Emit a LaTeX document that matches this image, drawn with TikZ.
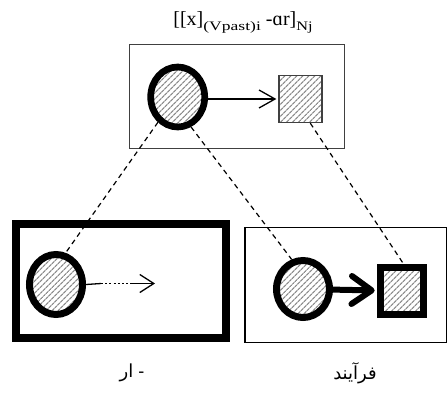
\documentclass[tikz,border=0pt]{standalone}
\usepackage{fontspec}
\usepackage{graphicx}
\usetikzlibrary{shapes.geometric,arrows.meta,patterns.meta}
\newfontfamily\titlefont{Liberation Serif}
\newfontfamily\labfont{Liberation Sans}
\newfontfamily\arabicfont[Script=Arabic]{DejaVu Sans}
\TeXXeTstate=1
\begin{document}
\begin{tikzpicture}[x=1pt,y=-1pt,
  hatch/.style={pattern={Lines[angle=45,distance=4pt,line width=1.3pt]},pattern color=black!45},
  circ/.style={ellipse,draw,hatch,inner sep=0pt,line width=#1},
  sq/.style={rectangle,draw,hatch,inner sep=0pt,minimum width=43pt,minimum height=47pt,line width=#1},
  link/.style={dash pattern=on 5pt off 4pt,line width=1.2pt},
  frame/.style={draw,rectangle,inner sep=0pt},
  lab/.style={font=\labfont\fontsize{18}{20}\selectfont,inner sep=0pt}
]
\useasboundingbox (0,0) rectangle (447,393);

% frames
\node[frame,line width=1.4pt,draw=black!75,minimum width=215pt,minimum height=104pt] (topbox) at (237,96.5) {};
\node[frame,line width=8pt,minimum width=210.5pt,minimum height=114pt] (leftbox) at (120.75,281) {};
\node[frame,line width=1.2pt,minimum width=201.5pt,minimum height=115pt] (rightbox) at (345.75,285) {};

% title
\node[anchor=base,inner sep=0pt] (title) at (243,26) {\titlefont\fontsize{20}{20}\selectfont
  [[x]\raisebox{-4.5pt}{\fontsize{13}{13}\selectfont\scalebox{1.35}[1]{(Vpast)i}} -ɑr]\raisebox{-4.5pt}{\fontsize{13}{13}\selectfont\scalebox{1.25}[1]{Nj}}};

% top shapes
\node[circ=6.7pt,minimum width=54pt,minimum height=60pt] (tc) at (177.7,97) {};
\node[sq=1.3pt,draw=black!75] (ts) at (300.5,99) {};
\draw[line width=1.3pt,-{Straight Barb[length=16pt,width=18pt,line width=1.3pt]},shorten >=2pt] (tc.east |- ts.west) -- (ts.west);

% bottom-left shapes
\node[circ=7pt,minimum width=53pt,minimum height=60pt] (lc) at (56,284.5) {};
\coordinate (d1) at (101,283.5);
\coordinate (d2) at (132,283.5);
\coordinate (lt) at (155,283.5);
\draw[line width=1.3pt] (lc.east) -- (d1);
\draw[line width=1.3pt,dash pattern=on 2pt off 2.2pt] (d1) -- (d2);
\draw[line width=1.3pt,-{Straight Barb[length=14pt,width=18pt,line width=1.3pt]}] (d2) -- (lt);

% bottom-right shapes
\node[circ=7pt,minimum width=53pt,minimum height=57pt] (rc) at (303,289) {};
\node[sq=7pt] (rs) at (401.7,291) {};
\draw[line width=6pt,-{Straight Barb[length=20pt,width=28pt,line width=6pt,round]},shorten >=2pt] (rc) -- (rs);

% dashed links
\draw[link] (tc.232) -- (lc.73);
\draw[link] (tc.294) -- (rc.111);
\draw[link] (ts.292) -- (rs.86);

% labels
\node[lab] (l1) at (132,373) {\hbox{\arabicfont\beginR ار\endR}\hbox{\ }\hbox{-}};
\node[lab] (l2) at (355,373) {\arabicfont\beginR فرآیند\endR};
\end{tikzpicture}
\end{document}
